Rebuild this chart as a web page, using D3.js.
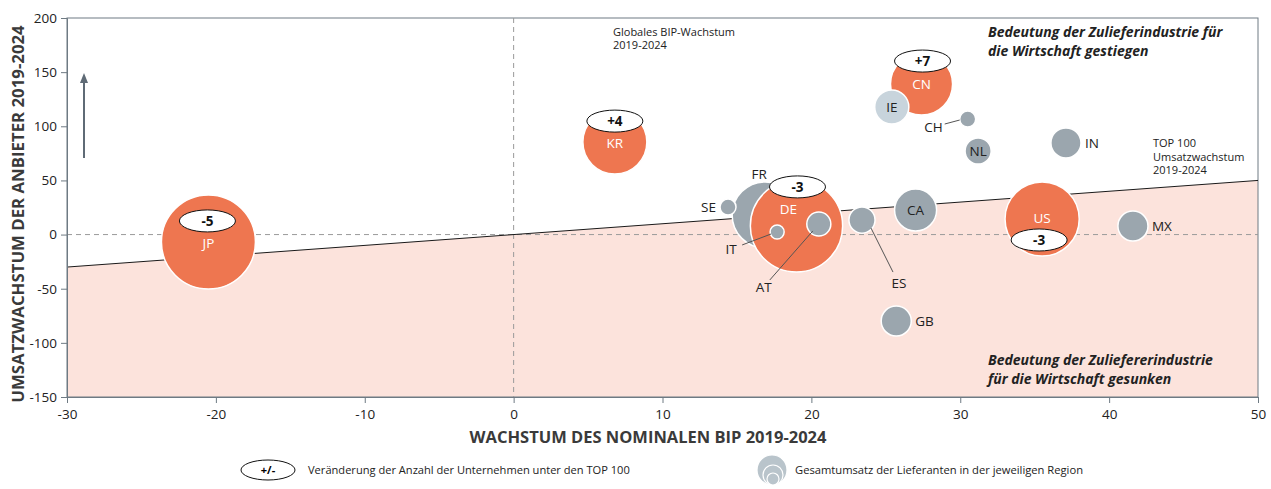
<!DOCTYPE html>
<html><head><meta charset="utf-8">
<script src="https://cdn.jsdelivr.net/npm/d3@7/dist/d3.min.js"></script>
<style>
body{margin:0;background:#fff;}
text{font-family:"Open Sans",sans-serif;}
</style></head>
<body><svg id="c" width="1271" height="489"></svg>
<script>
// ---- data ----
const countries = ["JP","KR","FR","SE","DE","IT","AT","ES","CA","GB","US","MX","CN","IE","CH","NL","IN"];
const gdpGrowth = [-20.5, 6.8, 16.9, 14.4, 19.0, 17.7, 20.5, 23.4, 27.0, 25.7, 35.5, 41.6, 27.4, 25.4, 30.5, 31.2, 37.1];
const revGrowth = [-6.8, 85.4, 18.1, 25.4, 8.0, 2.4, 9.8, 13.4, 22.7, -79.8, 14.4, 7.9, 139.0, 117.8, 106.7, 77.2, 84.6];
const totalRevenue = [220, 102, 109, 6.4, 212, 4.9, 14.4, 17, 44, 22.5, 137, 22.5, 96, 29, 6.4, 17, 22.5];
const groups = ["top","top","other","other","top","other","other","other","other","other","top","other","top","light","other","other","other"];
const top100Change = {JP:"-5", KR:"+4", CN:"+7", DE:"-3", US:"-3"};
const xTicks = [-30,-20,-10,0,10,20,30,40,50];
const yTicks = [-150,-100,-50,0,50,100,150,200];
const globalLine = [[-30,-30],[50,50]];

// ---- layout ----
const W=1271,H=489, L=67,R=1258,T=18,B=397;
const svg=d3.select("#c");
const x=d3.scaleLinear([-30,50],[L,R]);
const y=d3.scaleLinear([-150,200],[B,T]);
const r=d3.scaleSqrt([0,220],[0,47]);
const fill={top:"#ee7650",other:"#9ba6ae",light:"#c8d4dc"};
const axisCol="#6e7a83";

// pink area below diagonal
svg.append("path")
  .attr("d",`M${x(-30)},${y(-30)} L${x(50)},${y(50)} L${x(50)},${y(-150)} L${x(-30)},${y(-150)} Z`)
  .attr("fill","#fce3dc");
// frame
svg.append("rect").attr("x",L).attr("y",T).attr("width",R-L).attr("height",B-T)
  .attr("fill","none").attr("stroke",axisCol).attr("stroke-width",1);
// dashed zero lines
svg.append("line").attr("x1",L).attr("x2",R).attr("y1",y(0)).attr("y2",y(0))
  .attr("stroke","#9a9a9a").attr("stroke-dasharray","5,4").attr("stroke-width",1);
svg.append("line").attr("x1",x(0)).attr("x2",x(0)).attr("y1",T).attr("y2",B)
  .attr("stroke","#9a9a9a").attr("stroke-dasharray","5,4").attr("stroke-width",1);
// diagonal
svg.append("line").attr("x1",x(globalLine[0][0])).attr("y1",y(globalLine[0][1]))
  .attr("x2",x(globalLine[1][0])).attr("y2",y(globalLine[1][1]))
  .attr("stroke","#1a1a1a").attr("stroke-width",1);

// axes
const fmt=d=>String(d);
const xa=svg.append("g").attr("transform",`translate(0,${B})`)
  .call(d3.axisBottom(x).tickValues(xTicks).tickFormat(fmt).tickSize(6).tickPadding(6));
const ya=svg.append("g").attr("transform",`translate(${L},0)`)
  .call(d3.axisLeft(y).tickValues(yTicks).tickFormat(fmt).tickSize(6).tickPadding(4));
[xa,ya].forEach(g=>{
  g.select(".domain").attr("stroke",axisCol);
  g.selectAll(".tick line").attr("stroke",axisCol);
  g.selectAll(".tick text").attr("fill","#222").style("font-size","13.5px").style("font-family","Open Sans");
});

// axis titles
svg.append("text").attr("x",648).attr("y",443).attr("text-anchor","middle")
  .style("font-size","16.5px").style("font-weight","700").attr("fill","#3a3a3a")
  .text("WACHSTUM DES NOMINALEN BIP 2019-2024");
svg.append("text").attr("transform",`translate(24,214) rotate(-90)`).attr("text-anchor","middle")
  .style("font-size","16.8px").style("font-weight","700").attr("fill","#3a3a3a")
  .text("UMSATZWACHSTUM DER ANBIETER 2019-2024");

// arrow
svg.append("defs").append("marker").attr("id","ah").attr("viewBox","0 0 10 10")
  .attr("refX",5).attr("refY",5).attr("markerWidth",5).attr("markerHeight",5).attr("orient","auto")
  .append("path").attr("d","M0,1 L10,5 L0,9 Z").attr("fill","#5f6b76");
svg.append("line").attr("x1",84).attr("x2",84).attr("y1",158).attr("y2",78)
  .attr("stroke","#5f6b76").attr("stroke-width",2).attr("marker-end","url(#ah)");

// annotations
function multi(xp,yp,lines,size,lh,opts={}){
  const t=svg.append("text").attr("x",xp).attr("y",yp).style("font-size",size+"px").attr("fill","#222");
  if(opts.bold) t.style("font-weight","700");
  if(opts.italic) t.style("font-style","italic");
  lines.forEach((s,i)=>t.append("tspan").attr("x",xp).attr("dy",i?lh:0).text(s));
}
multi(613,36,["Globales BIP-Wachstum","2019-2024"],11,13);
multi(1153,147,["TOP 100","Umsatzwachstum","2019-2024"],11,13.5);
multi(988,37,["Bedeutung der Zulieferindustrie für","die Wirtschaft gestiegen"],14,19,{bold:true,italic:true});
multi(988,365,["Bedeutung der Zuliefererindustrie","für die Wirtschaft gesunken"],14,19,{bold:true,italic:true});

// bubbles
const data=countries.map((c,i)=>({c,gx:gdpGrowth[i],ry:revGrowth[i],v:totalRevenue[i],g:groups[i]}));
svg.append("g").selectAll("circle").data(data).join("circle")
  .attr("cx",d=>x(d.gx)).attr("cy",d=>y(d.ry)).attr("r",d=>r(d.v))
  .attr("fill",d=>fill[d.g]).attr("stroke","#fff").attr("stroke-width",1.5);

// label placement (offsets in px relative to bubble centre)
const labelPos={
  JP:{dx:0,dy:1,inside:true}, KR:{dx:0,dy:1,inside:true}, CN:{dx:0,dy:0,inside:true},
  DE:{dx:-8,dy:-17,inside:true}, US:{dx:0,dy:-1,inside:true},
  IE:{dx:0,dy:0,inside:true}, NL:{dx:0,dy:0,inside:true}, CA:{dx:0,dy:0,inside:true},
  FR:{dx:-6,dy:-41}, SE:{dx:-12,dy:0,anchor:"end"},
  IT:{dx:-46,dy:17,lead:[-35,13,-6,2]},
  AT:{dx:-55,dy:63,lead:[-49,56,-6,7]},
  ES:{dx:37,dy:63,lead:[9,8,31,52]},
  GB:{dx:19,dy:0,anchor:"start"}, MX:{dx:19,dy:0,anchor:"start"}, IN:{dx:19,dy:0,anchor:"start"},
  CH:{dx:-25,dy:8,anchor:"end",lead:[-23,5,-8,1]}
};
const lg=svg.append("g");
data.forEach(d=>{
  const p=labelPos[d.c], cx=x(d.gx), cy=y(d.ry);
  if(p.lead){
    lg.append("line").attr("x1",cx+p.lead[0]).attr("y1",cy+p.lead[1]).attr("x2",cx+p.lead[2]).attr("y2",cy+p.lead[3])
      .attr("stroke","#555").attr("stroke-width",1);
  }
  lg.append("text").attr("x",cx+p.dx).attr("y",cy+p.dy).attr("dy","0.36em")
    .attr("text-anchor",p.anchor||"middle").style("font-size","13.5px")
    .attr("fill",p.inside&&d.g==="top"?"#fff":"#222").text(d.c);
});

// badges
const badgeOff={JP:[-1,-21],KR:[0,-21],CN:[1,-23],DE:[1,-39],US:[-3,21]};
Object.keys(top100Change).forEach(c=>{
  const d=data.find(e=>e.c===c);
  const bx=x(d.gx)+badgeOff[c][0], by=y(d.ry)+badgeOff[c][1];
  svg.append("ellipse").attr("cx",bx).attr("cy",by).attr("rx",28).attr("ry",11)
    .attr("fill","#fff").attr("stroke","#111").attr("stroke-width",1);
  svg.append("text").attr("x",bx).attr("y",by).attr("dy","0.36em").attr("text-anchor","middle")
    .style("font-size","13.5px").style("font-weight","700").attr("fill","#111").text(top100Change[c]);
});

// legend
svg.append("ellipse").attr("cx",268).attr("cy",470).attr("rx",27).attr("ry",10)
  .attr("fill","#fff").attr("stroke","#111");
svg.append("text").attr("x",268).attr("y",470).attr("dy","0.36em").attr("text-anchor","middle")
  .style("font-size","11px").style("font-weight","700").text("+/-");
svg.append("text").attr("x",308).attr("y",470).attr("dy","0.36em").style("font-size","11.1px").attr("fill","#222")
  .text("Veränderung der Anzahl der Unternehmen unter den TOP 100");
[[772,470,15],[773,475,10],[773,479,6]].forEach(c=>{
  svg.append("circle").attr("cx",c[0]).attr("cy",c[1]).attr("r",c[2])
    .attr("fill","#b9c4cb").attr("stroke","#fff").attr("stroke-width",1.2);
});
svg.append("text").attr("x",795).attr("y",470).attr("dy","0.36em").style("font-size","11.2px").attr("fill","#222")
  .text("Gesamtumsatz der Lieferanten in der jeweiligen Region");
</script></body></html>
